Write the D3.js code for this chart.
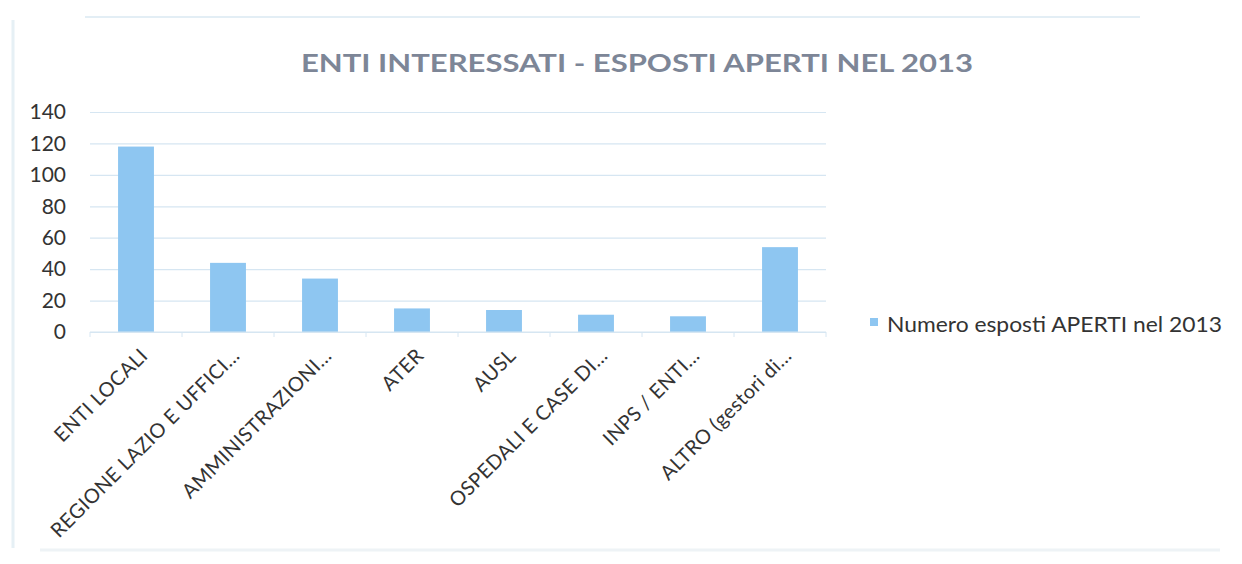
<!DOCTYPE html>
<html>
<head>
<meta charset="utf-8">
<script src="https://cdn.jsdelivr.net/npm/d3@7"></script>
<style>
  body { margin: 0; background: #fff; }
  svg { display: block; font-family: Lato, "Liberation Sans", sans-serif; }
  .grid line { stroke: #d6e6f2; stroke-width: 1.2; }
  .grid .domain { display: none; }
  .y.axis .domain, .y.axis line { display: none; }
  .y.axis text { font-family: Lato, sans-serif; font-size: 21px; fill: #333; }
  .x.axis .domain { stroke: #d6e6f2; stroke-width: 1.2; }
  .x.axis line { stroke: #d6e6f2; }
  .x.axis text { font-size: 20px; fill: #333; letter-spacing: 0.4px; }
</style>
</head>
<body>
<div id="chart"></div>
<script>
var categories = ["ENTI LOCALI", "REGIONE LAZIO E UFFICI...", "AMMINISTRAZIONI...", "ATER", "AUSL",
                  "OSPEDALI E CASE DI...", "INPS / ENTI...", "ALTRO (gestori di..."];
var values = [118, 44, 34, 15, 14, 11, 10, 54];
var yTicks = [0, 20, 40, 60, 80, 100, 120, 140];
var seriesName = "Numero esposti APERTI nel 2013";
var title = "ENTI INTERESSATI - ESPOSTI APERTI NEL 2013";

var W = 1242, H = 564;
var margin = {top: 112, right: 416, bottom: 232, left: 90};
var width = W - margin.left - margin.right,
    height = H - margin.top - margin.bottom;

var svg = d3.select("#chart").append("svg")
    .attr("width", W)
    .attr("height", H);

// faint frame edges of the scanned chart
svg.append("line").attr("x1", 85).attr("x2", 1140).attr("y1", 17).attr("y2", 17)
    .style("stroke", "#e3eef5").style("stroke-width", 2);
svg.append("line").attr("x1", 13).attr("x2", 13).attr("y1", 20).attr("y2", 548)
    .style("stroke", "#e6f0f5").style("stroke-width", 3);
svg.append("line").attr("x1", 40).attr("x2", 1220).attr("y1", 550).attr("y2", 550)
    .style("stroke", "#eef3f6").style("stroke-width", 3);

// title
svg.append("text")
    .attr("x", 637)
    .attr("y", 72)
    .attr("text-anchor", "middle")
    .attr("textLength", 672)
    .attr("lengthAdjust", "spacingAndGlyphs")
    .style("font-size", "24px")
    .style("font-weight", "bold")
    .style("fill", "#7d8697")
    .text(title);

var g = svg.append("g")
    .attr("transform", "translate(" + margin.left + "," + margin.top + ")");

var x = d3.scaleBand()
    .domain(categories)
    .range([0, width])
    .paddingInner(0.61)
    .paddingOuter(0.305);

var y = d3.scaleLinear()
    .domain([0, 140])
    .range([height, 0]);

// gridlines
g.append("g")
    .attr("class", "grid")
    .call(d3.axisLeft(y).tickValues(yTicks).tickSize(-width).tickFormat(""));

// bars
g.selectAll(".bar")
    .data(values)
    .enter().append("rect")
    .attr("class", "bar")
    .attr("x", function(d, i) { return x(categories[i]); })
    .attr("width", x.bandwidth())
    .attr("y", function(d) { return y(d); })
    .attr("height", function(d) { return height - y(d); })
    .style("fill", "#8ec6f1");

// y axis
g.append("g")
    .attr("class", "y axis")
    .attr("transform", "translate(-24,0)")
    .call(d3.axisLeft(y).tickValues(yTicks).tickSize(0).tickPadding(0));

// x axis, category separators
var step = x.step();
var xAxis = g.append("g")
    .attr("class", "x axis")
    .attr("transform", "translate(0," + height + ")");
xAxis.append("line")
    .attr("class", "domain")
    .attr("x1", 0).attr("x2", width);
xAxis.selectAll(".sep")
    .data(d3.range(categories.length + 1))
    .enter().append("line")
    .attr("x1", function(d) { return d * step; })
    .attr("x2", function(d) { return d * step; })
    .attr("y1", 0).attr("y2", 5);

xAxis.selectAll(".lbl")
    .data(categories)
    .enter().append("text")
    .attr("class", "lbl")
    .attr("text-anchor", "end")
    .attr("transform", function(d) {
        return "translate(" + (x(d) + x.bandwidth() / 2 + 8) + ",20) rotate(-45)";
    })
    .attr("dy", "0.35em")
    .text(function(d) { return d; });

// legend
var legend = svg.append("g")
    .attr("transform", "translate(870,318)");
legend.append("rect")
    .attr("width", 8).attr("height", 8)
    .style("fill", "#8ec6f1");
legend.append("text")
    .attr("x", 17)
    .attr("y", 14)
    .attr("textLength", 335)
    .attr("lengthAdjust", "spacingAndGlyphs")
    .style("font-size", "21px")
    .style("fill", "#333")
    .text(seriesName);
</script>
</body>
</html>
